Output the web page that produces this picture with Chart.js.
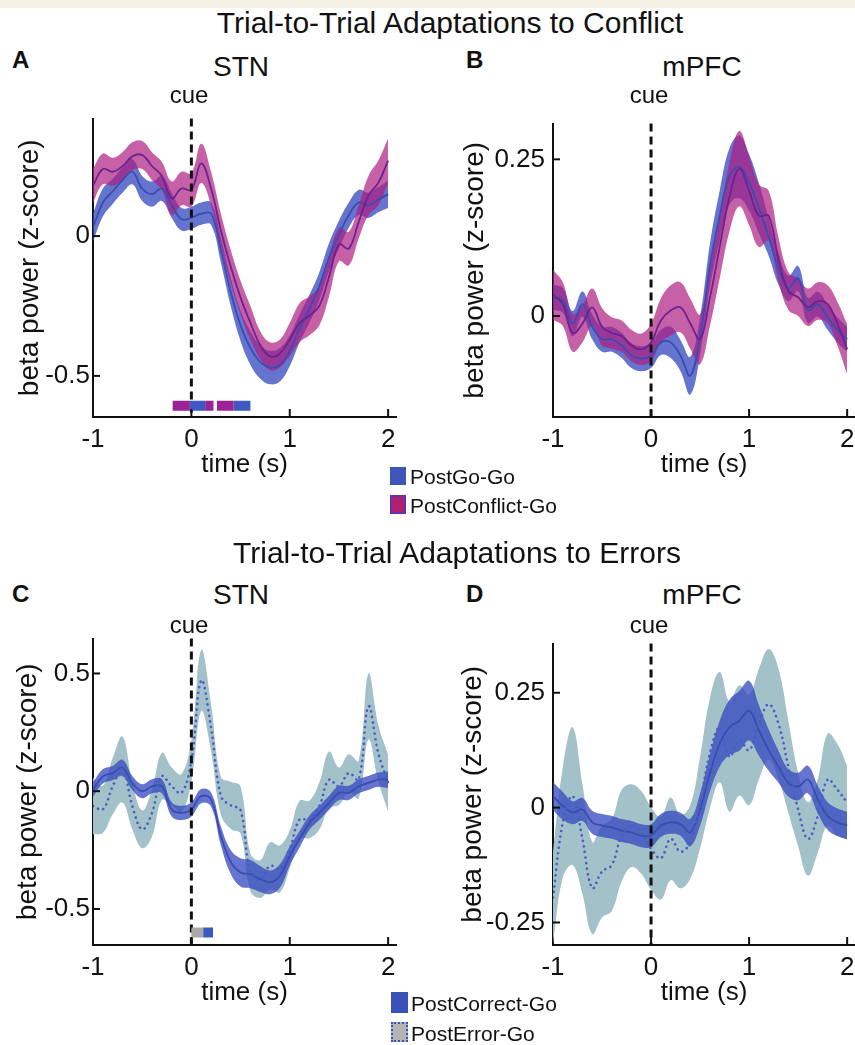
<!DOCTYPE html>
<html><head><meta charset="utf-8">
<script src="https://cdn.jsdelivr.net/npm/chart.js@4.4.1/dist/chart.umd.min.js"></script>
<style>
html,body{margin:0;padding:0;background:#fff;width:855px;height:1045px;overflow:hidden;position:relative;font-family:'Liberation Sans',Arial,Helvetica,sans-serif;}
.t{position:absolute;white-space:nowrap;line-height:1;color:#111;}
canvas{position:absolute;}
.sq{position:absolute;box-sizing:border-box;}
</style></head><body>
<div style="position:absolute;left:0;top:0;width:855px;height:8px;background:#f4f0e2"></div>
<canvas id="cA" width="420" height="380" style="left:0px;top:100px"></canvas>
<canvas id="cB" width="450" height="380" style="left:430px;top:100px"></canvas>
<canvas id="cC" width="420" height="388" style="left:0px;top:620px"></canvas>
<canvas id="cD" width="450" height="388" style="left:430px;top:620px"></canvas>
<div class="sq" style="left:390px;top:467px;width:16px;height:18px;background:#3f56b8"></div>
<div class="sq" style="left:390px;top:495px;width:16px;height:19px;background:#b0206e;border:2px solid #6a30b0"></div>
<div class="sq" style="left:391px;top:992px;width:17px;height:21px;background:#3a52b8"></div>
<div class="sq" style="left:391px;top:1022px;width:17px;height:20px;background:#b4b4b4;border:2.5px dotted #3a52c0"></div>
<script>
// ---------- data ----------
const time = [-1,-0.9,-0.8,-0.7,-0.6,-0.5,-0.4,-0.3,-0.2,-0.1,0,0.1,0.2,0.3,0.4,0.5,0.6,0.7,0.8,0.9,1,1.1,1.2,1.3,1.4,1.5,1.6,1.7,1.8,1.9,2];
const xTicks = [-1,0,1,2];

// Panel A: STN, conflict
const A_goMean = [0.03,0.12,0.16,0.2,0.23,0.17,0.15,0.17,0.11,0.06,0.065,0.08,0.08,-0.05,-0.2,-0.32,-0.4,-0.45,-0.47,-0.46,-0.41,-0.33,-0.26,-0.18,-0.075,0.005,0.075,0.12,0.11,0.13,0.15];
const A_goSem  = [0.05,0.05,0.045,0.045,0.045,0.045,0.045,0.045,0.045,0.04,0.04,0.04,0.04,0.045,0.05,0.055,0.06,0.06,0.06,0.06,0.055,0.05,0.05,0.05,0.05,0.05,0.045,0.045,0.045,0.045,0.05];
const A_cfMean = [0.18,0.24,0.23,0.25,0.285,0.29,0.25,0.215,0.135,0.17,0.165,0.26,0.17,0.02,-0.11,-0.22,-0.31,-0.39,-0.43,-0.42,-0.37,-0.31,-0.285,-0.25,-0.145,-0.03,-0.045,0.05,0.145,0.19,0.27];
const A_cfSem  = [0.06,0.055,0.05,0.05,0.05,0.05,0.05,0.05,0.06,0.06,0.06,0.07,0.06,0.06,0.06,0.06,0.06,0.05,0.05,0.05,0.06,0.07,0.07,0.07,0.07,0.06,0.06,0.06,0.07,0.08,0.08];
const A_yTicks = [-0.5,0];
const A_sig = [[-0.19,-0.015,'cf'],[-0.015,0.14,'go'],[0.14,0.225,'cf'],[0.26,0.43,'cf'],[0.43,0.6,'go']];
const A_sigY = -0.607;

// Panel B: mPFC, conflict
const B_goMean = [0.03,0.025,-0.012,0.019,-0.017,-0.037,-0.037,-0.047,-0.063,-0.068,-0.063,-0.042,-0.042,-0.063,-0.095,-0.032,0.08,0.16,0.223,0.238,0.213,0.172,0.126,0.075,0.044,0.06,0.009,0.019,-0.002,-0.022,-0.037];
const B_goSem  = [0.02,0.02,0.02,0.02,0.02,0.02,0.02,0.02,0.02,0.02,0.02,0.02,0.025,0.025,0.03,0.03,0.035,0.04,0.045,0.05,0.045,0.04,0.03,0.025,0.02,0.02,0.02,0.02,0.02,0.02,0.02];
const B_cfMean = [0.034,0.019,-0.027,-0.012,0.014,-0.017,-0.027,-0.032,-0.047,-0.053,-0.042,-0.007,0.009,0.014,-0.012,-0.037,0.029,0.11,0.19,0.235,0.2,0.16,0.16,0.09,0.04,0.03,0.014,0.024,0.019,-0.012,-0.053];
const B_cfSem  = [0.04,0.035,0.03,0.03,0.03,0.03,0.025,0.025,0.025,0.025,0.03,0.035,0.04,0.04,0.04,0.04,0.045,0.05,0.055,0.06,0.055,0.05,0.04,0.035,0.03,0.03,0.03,0.03,0.03,0.035,0.04];
const B_yTicks = [0,0.25];

// Panel C: STN, errors
const C_goMean = [0.007,0.063,0.077,0.099,0.035,0,0.021,0.021,-0.077,-0.092,-0.077,-0.021,-0.035,-0.19,-0.3,-0.345,-0.352,-0.373,-0.387,-0.36,-0.275,-0.204,-0.134,-0.092,-0.049,-0.007,-0.007,0.021,0.035,0.049,0.049];
const C_goSem  = [0.03,0.03,0.03,0.035,0.03,0.03,0.03,0.03,0.03,0.03,0.03,0.03,0.03,0.04,0.05,0.06,0.06,0.055,0.05,0.05,0.04,0.035,0.03,0.03,0.03,0.03,0.03,0.03,0.03,0.03,0.035];
const C_erMean = [-0.063,-0.077,0.021,0.092,-0.063,-0.162,-0.092,0.063,0.021,-0.007,0.13,0.47,0.27,-0.02,-0.06,-0.08,-0.345,-0.373,-0.317,-0.33,-0.246,-0.12,-0.12,-0.063,0.049,0.021,0.077,0.049,0.36,0.162,0.035];
const C_erSem  = [0.12,0.1,0.12,0.14,0.1,0.08,0.1,0.1,0.08,0.08,0.09,0.13,0.1,0.08,0.1,0.1,0.08,0.08,0.1,0.1,0.08,0.08,0.08,0.1,0.12,0.08,0.08,0.08,0.14,0.12,0.12];
const C_yTicks = [-0.5,0,0.5];
const C_sig = [[0,0.12,'er'],[0.12,0.22,'go']];
const C_sigY = -0.6;

// Panel D: mPFC, errors
const D_goMean = [0.025,0.004,-0.011,-0.004,-0.032,-0.039,-0.043,-0.05,-0.054,-0.061,-0.061,-0.039,-0.032,-0.036,-0.054,-0.004,0.075,0.139,0.175,0.189,0.211,0.168,0.125,0.089,0.054,0.046,0.061,0.018,-0.018,-0.032,-0.039];
const D_goSem  = [0.03,0.03,0.025,0.025,0.025,0.025,0.025,0.025,0.025,0.025,0.025,0.025,0.025,0.025,0.03,0.035,0.04,0.05,0.06,0.065,0.065,0.055,0.045,0.035,0.03,0.03,0.03,0.03,0.03,0.03,0.03];
const D_erMean = [-0.196,-0.032,0.025,-0.068,-0.175,-0.139,-0.125,-0.061,-0.039,-0.054,-0.089,-0.11,-0.068,-0.096,-0.075,0.011,0.118,0.175,0.111,0.146,0.125,0.182,0.225,0.182,0.089,-0.004,-0.068,-0.018,0.061,0.039,0.011];
const D_erSem  = [0.1,0.12,0.15,0.12,0.1,0.1,0.1,0.1,0.09,0.09,0.09,0.09,0.09,0.08,0.08,0.1,0.12,0.12,0.12,0.12,0.12,0.12,0.12,0.12,0.1,0.08,0.08,0.08,0.1,0.1,0.08];
const D_yTicks = [-0.25,0,0.25];

// ---------- styles ----------
const F = "'Liberation Sans', Arial, Helvetica, sans-serif";
const BLUE_BAND = 'rgba(50,70,190,0.75)';
const MAG_BAND = 'rgba(175,30,130,0.7)';
const TEAL_BAND = '#a3c1c9';
const BLUE_LINE = '#3a4cb0';
const MAG_LINE = '#6a2390';
const SIGCOL = {cf:'#9b2396', go:'#3d58c0', er:'#a8a8a8'};

function pts(arr, off, sgn){ return arr.map((v,i)=>({x:time[i], y: v + (off? sgn*off[i] : 0)})); }
function band(mean, sem, color, order){
  return [
    {data:pts(mean,sem,1), borderWidth:0, pointRadius:0, fill:'+1', backgroundColor:color, tension:0.4, order},
    {data:pts(mean,sem,-1), borderWidth:0, pointRadius:0, fill:false, tension:0.4, order}
  ];
}
function meanLine(mean, color, order, dotted){
  const d = {data:pts(mean), borderColor:color, borderWidth: dotted?2.6:1.8, pointRadius:0, fill:false, tension:0.4, order};
  if (dotted){ d.borderDash=[0.1,5.5]; d.borderCapStyle='round'; }
  return d;
}
function sigSets(sig, y){
  return sig.map(s=>({data:[{x:s[0],y},{x:s[1],y}], borderColor:SIGCOL[s[2]], borderWidth:10, borderCapStyle:'butt', pointRadius:0, fill:false, order:0, isSig:true}));
}

const cuePlugin = {
  id:'cue',
  beforeDraw(chart){ chart.$cueDone=false; },
  beforeDatasetDraw(chart, args){ if(chart.data.datasets[args.index].isSig && !chart.$cueDone){ drawCue(chart); chart.$cueDone=true; } },
  afterDatasetsDraw(chart){ if(!chart.$cueDone){ drawCue(chart); chart.$cueDone=true; } },
  afterDraw(chart){
    const {ctx, chartArea:a, scales:{x,y}} = chart;
    ctx.save(); ctx.strokeStyle='#111'; ctx.lineWidth=2;
    xTicks.forEach(v=>{ if(v===-1) return; const p=x.getPixelForValue(v); ctx.beginPath(); ctx.moveTo(p,a.bottom); ctx.lineTo(p,a.bottom-8); ctx.stroke(); });
    chart.options.$yt.forEach(v=>{ const p=y.getPixelForValue(v); ctx.beginPath(); ctx.moveTo(a.left,p); ctx.lineTo(a.left+7,p); ctx.stroke(); });
    ctx.restore();
  }
};
function drawCue(chart){
  const {ctx, chartArea:a, scales:{x}} = chart;
  const p = x.getPixelForValue(0);
  ctx.save(); ctx.strokeStyle='#111'; ctx.lineWidth=3; ctx.setLineDash([8,5]);
  ctx.beginPath(); ctx.moveTo(p,a.top); ctx.lineTo(p,a.bottom); ctx.stroke(); ctx.restore();
}

function makeChart(id, datasets, o){
  new Chart(document.getElementById(id), {
    type:'line',
    data:{datasets},
    options:{
      $yt:o.yTicks,
      responsive:false, animation:false, events:[],
      layout:{padding:{top:o.padTop, right:o.padRight, left:0, bottom:0}},
      plugins:{legend:{display:false}, tooltip:{enabled:false}},
      scales:{
        x:{type:'linear', min:-1, max:2.08,
           afterBuildTicks:s=>{s.ticks=xTicks.map(v=>({value:v}));},
           afterFit:s=>{s.height=o.xh;},
           grid:{display:false, drawTicks:false}, border:{display:true,color:'#111',width:2},
           ticks:{font:{size:26,family:F}, color:'#111', padding:7, maxRotation:0, autoSkip:false, callback:v=>String(v)},
           title:{display:true, text:'time (s)', font:{size:26,family:F}, color:'#111', padding:{top:0,bottom:0}}},
        y:{type:'linear', min:o.yMin, max:o.yMax,
           afterBuildTicks:s=>{s.ticks=o.yTicks.map(v=>({value:v}));},
           afterFit:s=>{s.width=o.yw;},
           grid:{display:false, drawTicks:false}, border:{display:true,color:'#111',width:2},
           ticks:{font:{size:26,family:F}, color:'#111', padding:o.ytpad, callback:v=>String(v)},
           title:{display:true, text:'beta power (z-score)', font:{size:28,family:F}, color:'#111', padding:{top:o.ytitle,bottom:0}}}
      }
    },
    plugins:[cuePlugin]
  });
}

makeChart('cA', [
  ...band(A_goMean, A_goSem, BLUE_BAND, 5),
  ...band(A_cfMean, A_cfSem, MAG_BAND, 4),
  meanLine(A_goMean, BLUE_LINE, 3),
  meanLine(A_cfMean, MAG_LINE, 2),
  ...sigSets(A_sig, A_sigY)
], {yMin:-0.647, yMax:0.42, yTicks:A_yTicks, padTop:12, padRight:24, xh:63, yw:93, ytpad:3, ytitle:13});

makeChart('cB', [
  ...band(B_goMean, B_goSem, BLUE_BAND, 5),
  ...band(B_cfMean, B_cfSem, MAG_BAND, 4),
  meanLine(B_goMean, BLUE_LINE, 3),
  meanLine(B_cfMean, MAG_LINE, 2)
], {yMin:-0.161, yMax:0.307, yTicks:B_yTicks, padTop:12, padRight:25, xh:63, yw:123, ytpad:8, ytitle:28});

makeChart('cC', [
  ...band(C_erMean, C_erSem, TEAL_BAND, 5),
  ...band(C_goMean, C_goSem, BLUE_BAND, 4),
  meanLine(C_goMean, BLUE_LINE, 3),
  meanLine(C_erMean, '#4a5cc8', 2, true),
  ...sigSets(C_sig, C_sigY)
], {yMin:-0.653, yMax:0.648, yTicks:C_yTicks, padTop:18, padRight:24, xh:63, yw:93, ytpad:3, ytitle:11});

makeChart('cD', [
  ...band(D_erMean, D_erSem, TEAL_BAND, 5),
  ...band(D_goMean, D_goSem, BLUE_BAND, 4),
  meanLine(D_goMean, BLUE_LINE, 3),
  meanLine(D_erMean, '#4a5cc8', 2, true)
], {yMin:-0.299, yMax:0.357, yTicks:D_yTicks, padTop:18, padRight:25, xh:63, yw:123, ytpad:8, ytitle:26});

// ---------- text ----------
function txt(s, x, base, size, o={}){
  const d=document.createElement('div'); d.className='t'; d.textContent=s;
  d.style.fontSize=size+'px'; if(o.bold) d.style.fontWeight='bold';
  d.style.top=(base-0.8465*size)+'px'; d.style.left=x+'px';
  if(o.center) d.style.transform='translateX(-50%)';
  document.body.appendChild(d);
}
txt('Trial-to-Trial Adaptations to Conflict', 450, 33, 30, {center:true});
txt('Trial-to-Trial Adaptations to Errors', 457, 563, 30, {center:true});
txt('A', 12, 68, 24, {bold:true});
txt('B', 466, 68, 24, {bold:true});
txt('C', 12, 602, 24, {bold:true});
txt('D', 466, 602, 24, {bold:true});
txt('STN', 241, 77, 28, {center:true});
txt('mPFC', 702, 77, 28, {center:true});
txt('STN', 241, 605, 28, {center:true});
txt('mPFC', 702, 605, 28, {center:true});
txt('cue', 189, 103, 24, {center:true});
txt('cue', 649, 103, 24, {center:true});
txt('cue', 189, 633, 24, {center:true});
txt('cue', 649, 633, 24, {center:true});
txt('PostGo-Go', 410, 483.5, 21);
txt('PostConflict-Go', 410, 512.5, 21);
txt('PostCorrect-Go', 411, 1010.5, 21);
txt('PostError-Go', 411, 1040.5, 21);
</script>
</body></html>
